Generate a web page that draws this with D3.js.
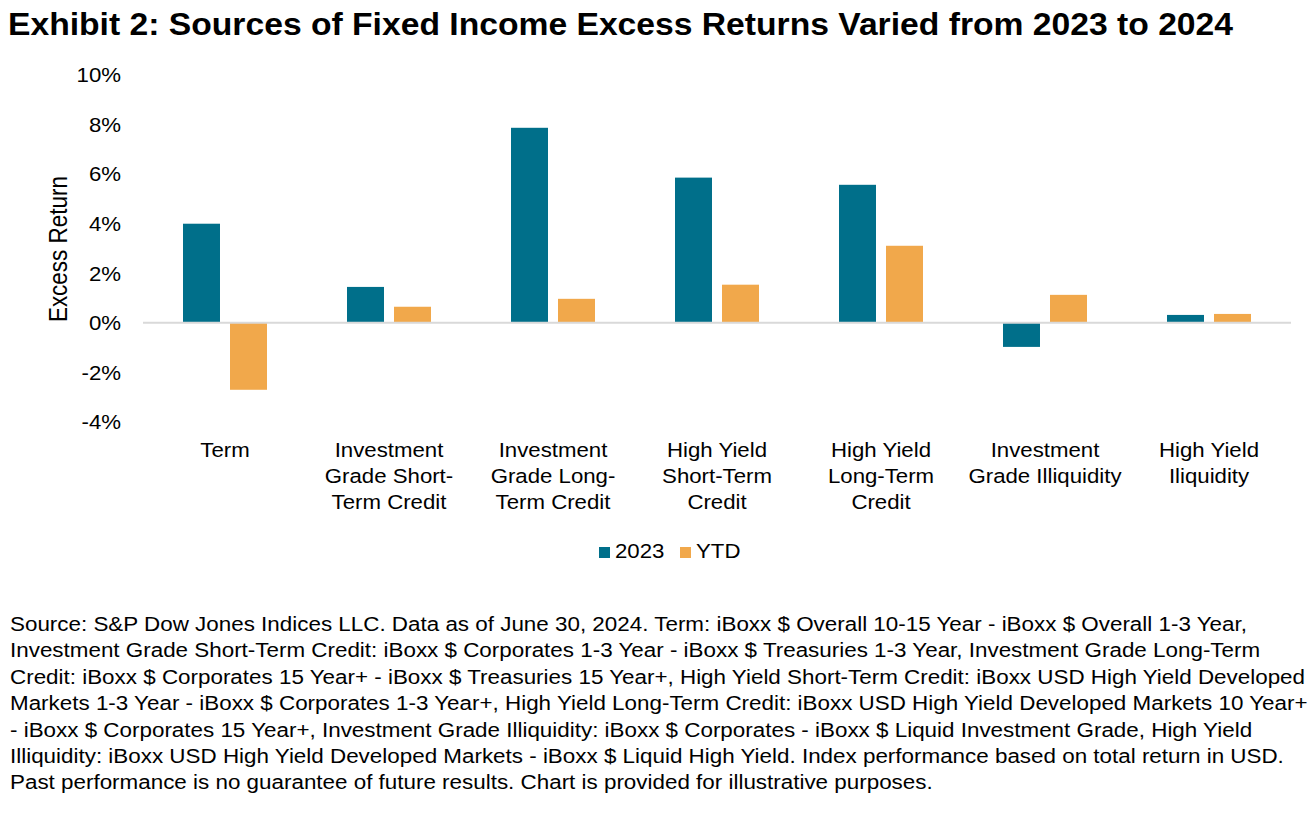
<!DOCTYPE html>
<html><head><meta charset="utf-8">
<script src="https://cdn.jsdelivr.net/npm/d3@7"></script>
<style>body{margin:0;background:#fff;font-family:"Liberation Sans",Arial,sans-serif}</style>
</head><body><svg id="c" width="1316" height="817"></svg>
<script>
const categories = ["Term","Investment Grade Short-Term Credit","Investment Grade Long-Term Credit","High Yield Short-Term Credit","High Yield Long-Term Credit","Investment Grade Illiquidity","High Yield Iliquidity"];
const categoryLines = [["Term"],["Investment","Grade Short-","Term Credit"],["Investment","Grade Long-","Term Credit"],["High Yield","Short-Term","Credit"],["High Yield","Long-Term","Credit"],["Investment","Grade Illiquidity"],["High Yield","Iliquidity"]];
const seriesNames = ["2023","YTD"];
const values2023 = [4.0,1.45,7.87,5.86,5.57,-0.97,0.32];
const valuesYTD = [-2.70,0.65,0.97,1.54,3.11,1.13,0.36];
const yTicks = [-4,-2,0,2,4,6,8,10];
const colors = ["#006f8a","#f1a84b"];
const footnote = [
"Source: S&P Dow Jones Indices LLC. Data as of June 30, 2024. Term: iBoxx $ Overall 10-15 Year - iBoxx $ Overall 1-3 Year,",
"Investment Grade Short-Term Credit: iBoxx $ Corporates 1-3 Year - iBoxx $ Treasuries 1-3 Year, Investment Grade Long-Term",
"Credit: iBoxx $ Corporates 15 Year+ - iBoxx $ Treasuries 15 Year+, High Yield Short-Term Credit: iBoxx USD High Yield Developed",
"Markets 1-3 Year - iBoxx $ Corporates 1-3 Year+, High Yield Long-Term Credit: iBoxx USD High Yield Developed Markets 10 Year+",
"- iBoxx $ Corporates 15 Year+, Investment Grade Illiquidity: iBoxx $ Corporates - iBoxx $ Liquid Investment Grade, High Yield",
"Illiquidity: iBoxx USD High Yield Developed Markets - iBoxx $ Liquid High Yield. Index performance based on total return in USD.",
"Past performance is no guarantee of future results. Chart is provided for illustrative purposes."
];

const svg = d3.select("#c");
const font = '"Liberation Sans",Arial,sans-serif';
const FS = 19.5, SX = 1.14;

function txt(x, y, s, anchor, size, sx) {
  return svg.append("text")
    .attr("transform", `translate(${x},${y}) scale(${sx||SX},1)`)
    .attr("text-anchor", anchor || "start")
    .attr("font-family", font).attr("font-size", size || FS).attr("fill", "#000")
    .text(s);
}

// title
svg.append("text").attr("x",8).attr("y",35)
  .attr("font-family",font).attr("font-weight","bold").attr("font-size",31).attr("fill","#000")
  .attr("textLength",1225).attr("lengthAdjust","spacingAndGlyphs")
  .text("Exhibit 2: Sources of Fixed Income Excess Returns Varied from 2023 to 2024");

const x0 = d3.scaleBand().domain(categories).range([143,1291]).padding(0);
const y = d3.scaleLinear().domain([-4,10]).range([422,75]);
const x1 = d3.scaleBand().domain(seriesNames).range([40,124]).paddingInner(0.213).paddingOuter(0);

const data = categories.map((c,i)=>({cat:c, vals:[{s:"2023",v:values2023[i]},{s:"YTD",v:valuesYTD[i]}]}));

// y axis labels
const yAxis = d3.axisLeft(y).tickValues(yTicks).tickFormat(d=>d+"%").tickSize(0).tickPadding(0);
const ga = svg.append("g").attr("transform","translate(121,0)").call(yAxis);
ga.select(".domain").remove();
ga.selectAll("text").attr("font-family",font).attr("font-size",FS).attr("fill","#000")
  .attr("x",0).attr("dy","0.35em").attr("transform",`scale(${SX},1)`);

svg.append("text").attr("transform","translate(67,249) scale(1.15,1) rotate(-90)").attr("text-anchor","middle")
  .attr("font-family",font).attr("font-size",22.5).attr("fill","#000").text("Excess Return");

// bars
svg.append("g").selectAll("g.cat").data(data).join("g").attr("class","cat")
  .attr("transform",d=>`translate(${x0(d.cat)},0)`)
  .selectAll("rect").data(d=>d.vals).join("rect")
  .attr("x",d=>x1(d.s)).attr("width",x1.bandwidth())
  .attr("y",d=>y(Math.max(0,d.v))).attr("height",d=>Math.abs(y(d.v)-y(0)))
  .attr("fill",(d,i)=>colors[i]);

// zero line
svg.append("line").attr("x1",143).attr("x2",1291).attr("y1",y(0)).attr("y2",y(0))
  .attr("stroke","#d9d9d9").attr("stroke-width",2);

// category labels
categories.forEach((c,i)=>{
  const cx = x0(c)+x0.bandwidth()/2;
  categoryLines[i].forEach((l,j)=>txt(cx, 457+j*26, l, "middle"));
});

// legend
const legX = [599,680];
seriesNames.forEach((s,i)=>{
  svg.append("rect").attr("x",legX[i]).attr("y",547).attr("width",11).attr("height",11).attr("fill",colors[i]);
  txt(legX[i]+16, 558, s, "start");
});

// footnote
footnote.forEach((l,i)=>txt(10, 631+i*26.4, l, "start", FS, 1.149));
</script></body></html>
